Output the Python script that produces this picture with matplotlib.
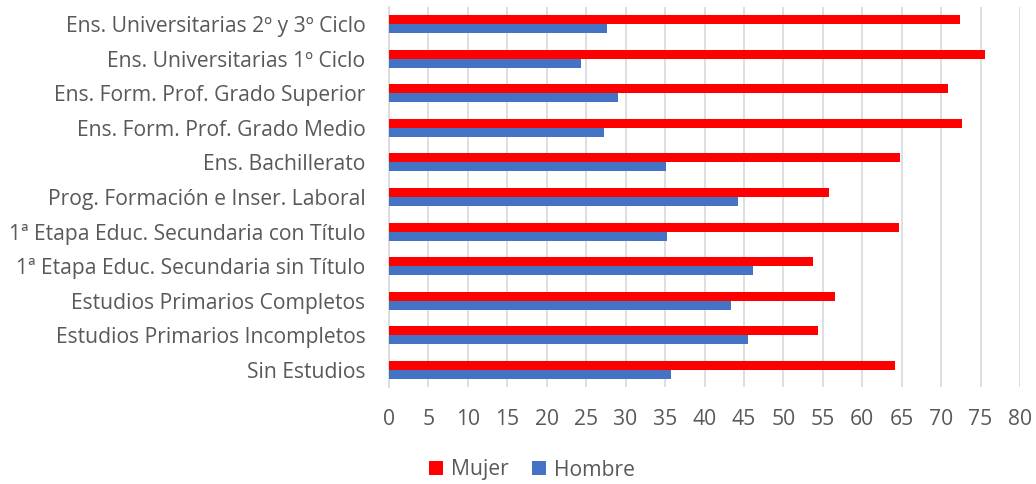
import matplotlib
matplotlib.use("Agg")
import matplotlib.pyplot as plt
import numpy as np

categories = [
    "Ens. Universitarias 2º y 3º Ciclo",
    "Ens. Universitarias 1º Ciclo",
    "Ens. Form. Prof. Grado Superior",
    "Ens. Form. Prof. Grado Medio",
    "Ens. Bachillerato",
    "Prog. Formación e Inser. Laboral",
    "1ª Etapa Educ. Secundaria con Título",
    "1ª Etapa Educ. Secundaria sin Título",
    "Estudios Primarios Completos",
    "Estudios Primarios Incompletos",
    "Sin Estudios",
]
mujer = [72.4, 75.5, 70.9, 72.7, 64.8, 55.8, 64.7, 53.7, 56.6, 54.4, 64.1]
hombre = [27.6, 24.3, 29.0, 27.3, 35.1, 44.2, 35.2, 46.2, 43.3, 45.5, 35.8]
xticks = list(range(0, 81, 5))

plt.rcParams['font.family'] = ['Open Sans', 'DejaVu Sans']
txt = '#595959'

fig = plt.figure(figsize=(10.36, 4.84), dpi=100)
ax = fig.add_axes([389/1036, 1 - 387/484, (1020-389)/1036, (387-7)/484])

y = np.arange(len(categories))
h = 0.26
ax.barh(y - h/2, mujer, height=h, color='#FF0000', label='Mujer', zorder=3)
ax.barh(y + h/2, hombre, height=h, color='#4472C4', label='Hombre', zorder=3)

ax.set_ylim(len(categories) - 0.5, -0.5)
ax.set_xlim(0, 80)
ax.set_xticks(xticks)
ax.set_yticks(y)
ax.set_yticklabels(categories)
ax.tick_params(axis='both', length=0, labelcolor=txt, labelsize=15.2)
ax.tick_params(axis='x', pad=16)
ax.tick_params(axis='y', pad=17)
ax.grid(axis='x', color='#D9D9D9', linewidth=1.2, zorder=0)
for s in ['top', 'right', 'bottom']:
    ax.spines[s].set_visible(False)
ax.spines['left'].set_color('#D9D9D9')
ax.spines['left'].set_linewidth(1.2)

handles, labels = ax.get_legend_handles_labels()
fig.legend(handles, labels, loc='center', bbox_to_anchor=(532/1036, 1 - 470/484),
           ncol=2, frameon=False, fontsize=15.2, labelcolor=txt,
           handlelength=0.65, handleheight=0.65, handletextpad=0.4, columnspacing=1.1)

fig.savefig('out.png', dpi=100)
